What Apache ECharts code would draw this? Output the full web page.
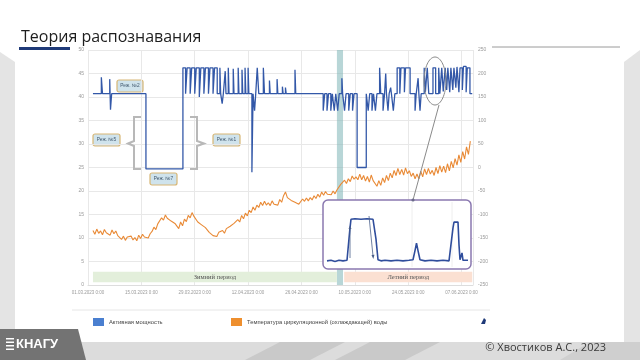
<!DOCTYPE html>
<html>
<head>
<meta charset="utf-8">
<script src="https://cdn.jsdelivr.net/npm/echarts@6/dist/echarts.min.js"></script>
<style>
html, body { margin: 0; padding: 0; background: #fff; }
#main { width: 640px; height: 360px; }
</style>
</head>
<body>
<div id="main"></div>
<script>
/* data */
var dateLabels = ['01.03.2023 0:00', '15.03.2023 0:00', '29.03.2023 0:00', '12.04.2023 0:00',
                  '26.04.2023 0:00', '10.05.2023 0:00', '24.05.2023 0:00', '07.06.2023 0:00'];
var seriesNames = ['Активная мощность', 'Температура циркуляционной (охлаждающей) воды'];

// active power, [day, value] change points (right axis)
var powerPoints = [
  [1.3,157],[3.5,192],[3.8,157],[5.7,188],[5.9,123],[6.2,157],
  [15.2,-3],
  [24.9,212],[25.6,157],[26.0,212],[26.8,157],[27.2,212],[28.0,157],[28.4,212],[29.2,150],[29.6,212],[30.4,157],
  [30.8,212],[31.6,157],[32.0,212],[32.8,157],[33.2,212],[33.9,157],
  [34.6,212],[34.8,157],[35.2,136],[35.5,157],[36.0,205],[36.2,157],[36.8,212],[37.0,157],[38.1,210],[38.3,157],
  [39.4,212],[39.6,157],[40.4,208],[40.6,157],[41.2,212],[41.4,157],[42.0,212],[42.2,157],[43.0,-10],[43.3,157],
  [43.7,121],[44.0,157],[44.4,212],[44.8,157],
  [46.0,212],[46.3,157],[47.6,185],[47.8,157],[49.6,188],[49.8,157],[51.0,172],[51.2,157],[51.8,170],[52.0,157],
  [54.3,208],[54.5,157],
  [61.7,121],[62.1,157],[62.7,121],[63.1,157],[63.7,121],[64.1,157],[64.6,121],[65.0,157],[65.5,121],[65.9,157],
  [66.6,190],[66.8,157],[67.3,121],[67.7,157],[68.4,121],[68.8,157],[69.4,121],[69.8,157],
  [70.6,0],[73.0,157],
  [73.5,121],[73.9,157],[74.5,121],[74.9,157],[75.4,121],[75.8,157],[76.5,212],[76.8,157],[77.4,121],[77.8,157],
  [78.1,200],[78.3,157],[78.7,121],[79.0,157],[79.4,170],[79.6,157],[80.1,121],[80.5,157],
  [81.1,212],[81.8,157],[82.1,212],[83.0,160],[83.3,212],[84.5,157],
  [85.8,121],[86.1,157],[86.6,190],[86.8,157],[87.1,121],[87.4,157],[88.2,212],[88.5,160],[89.0,212],[89.4,157],
  [90.5,212],[91.2,157],[92.0,212],[92.3,157],[92.8,212],[93.2,162],
  [93.7,212],[94.1,165],[94.4,212],[94.9,160],[95.2,212],[95.7,165],[96.0,212],[96.5,170],[96.8,214],[97.3,160],
  [97.6,212],[98.2,165],[98.5,215],[99.2,160],[99.5,212],[100.2,157],[100.8,157]
];

// water temperature, every half day from day 1.3 (left axis)
var tempStart = 1.3;
var tempStep = 0.5;
var tempValues = [
  11.6,10.8,11.9,11.0,11.5,10.7,11.8,11.1,11.4,10.6,
  11.7,10.9,11.5,10.5,10.3,9.7,10.4,9.5,10.2,9.8,
  10.4,9.6,10.1,9.4,10.6,9.9,10.8,10.2,10.5,10.0,
  10.9,11.4,12.3,11.8,13.0,12.6,14.3,13.8,14.9,14.2,
  14.6,13.6,14.0,13.1,12.7,12.0,13.4,12.6,14.0,13.5,
  14.8,14.3,15.4,14.6,14.2,13.4,13.6,12.8,12.9,12.2,
  11.9,11.2,11.1,10.5,10.9,10.3,11.2,10.8,11.6,11.0,
  12.0,11.6,12.5,12.1,13.1,12.7,13.9,13.4,14.8,14.1,
  15.3,14.7,15.9,15.4,16.6,15.9,17.0,16.5,17.6,16.9,
  17.8,17.0,17.5,16.9,17.9,17.2,17.6,17.0,18.2,17.6,
  19.0,19.8,18.6,18.9,18.0,18.4,17.6,17.9,17.2,17.6,
  18.3,17.8,18.5,17.9,18.6,18.1,19.0,18.4,19.3,18.7,
  19.8,19.1,19.9,19.3,19.7,19.2,20.0,19.4,20.2,20.6,
  21.4,21.0,22.3,21.6,22.6,22.0,23.2,22.5,23.0,22.4,
  23.6,22.4,23.3,22.1,23.1,21.9,23.4,22.2,21.8,21.0,
  22.2,21.2,22.8,21.8,23.3,22.2,23.8,22.8,24.4,23.3,
  24.8,23.5,24.6,23.4,24.9,23.7,24.3,23.1,23.8,22.6,
  23.6,22.6,24.2,23.0,24.7,23.5,24.8,23.6,24.4,23.3,
  25.0,23.7,25.4,24.0,25.3,23.9,25.8,24.3,26.3,24.9,
  26.9,25.5,27.7,26.1,28.4,26.8,29.4,27.8,30.6
];

// zoomed fragment in the inset, [offset, value]
var insetPoints = [
  [2,2],[6,3],[10,1],[14,3],[18,2],[22,3],[23,5],[25,60],[26,75],[30,76],[36,75],[42,76],[48,75],[50,74],
  [51,40],[53,4],[56,2],[60,3],[66,2],[72,3],[78,2],[84,3],[88,4],[90,20],[91.5,33],[93,20],[95,4],
  [100,2],[106,3],[112,2],[118,3],[124,2],[126,4],[128,60],[129,70],[133,70],[134,30],[135,4],
  [136,3],[137,16],[138,3],[140,2],[143,3]
];

var axisFont = 'Liberation Sans';

function callout(x, y, w, h, txt) {
  return {
    type: 'group', x: x, y: y, z: 20,
    children: [
      { type: 'rect', shape: { x: 0, y: 0, width: w, height: h, r: 2 },
        style: { fill: '#cfe3ec', stroke: '#d7b674', lineWidth: 1.2 } },
      { type: 'text', x: w / 2, y: h / 2,
        style: { text: txt, fill: '#3e556a', fontSize: 4.8, fontFamily: axisFont, align: 'center', verticalAlign: 'middle' } }
    ]
  };
}

var chart = echarts.init(document.getElementById('main'));

var option = {
  animation: false,
  backgroundColor: '#ffffff',
  legend: [
    { left: 88, top: 313, icon: 'rect', itemWidth: 11, itemHeight: 8, data: [seriesNames[0]],
      textStyle: { fontSize: 5.8, color: '#444', fontFamily: axisFont } },
    { left: 226, top: 313, icon: 'rect', itemWidth: 11, itemHeight: 8, data: [seriesNames[1]],
      textStyle: { fontSize: 5.8, color: '#444', fontFamily: axisFont } }
  ],
  grid: [
    { left: 88, right: 167, top: 50, bottom: 75 },
    { left: 325, top: 205, width: 145, height: 57 }
  ],
  xAxis: [
    { type: 'value', gridIndex: 0, min: 0, max: 101, interval: 14,
      axisLine: { lineStyle: { color: '#dddddd' } },
      axisTick: { show: false },
      splitLine: { lineStyle: { color: '#e8e8e8' } },
      axisLabel: { showMaxLabel: false, fontSize: 4.5, color: '#9a9a9a', fontFamily: axisFont, margin: 5,
        formatter: function (v) { return dateLabels[Math.round(v / 14)] || ''; } } },
    { type: 'value', gridIndex: 1, min: 0, max: 145, show: false }
  ],
  yAxis: [
    { type: 'value', gridIndex: 0, min: 0, max: 50, interval: 5,
      axisLine: { show: false }, axisTick: { show: false },
      splitLine: { lineStyle: { color: '#e8e8e8' } },
      axisLabel: { fontSize: 5, color: '#9a9a9a', fontFamily: axisFont, margin: 4 } },
    { type: 'value', gridIndex: 0, min: -250, max: 250, interval: 50, position: 'right',
      axisLine: { show: false }, axisTick: { show: false }, splitLine: { show: false },
      axisLabel: { fontSize: 5, color: '#9a9a9a', fontFamily: axisFont, margin: 5 } },
    { type: 'value', gridIndex: 1, min: 0, max: 100, show: false }
  ],
  series: [
    { name: seriesNames[0], type: 'line', xAxisIndex: 0, yAxisIndex: 1, step: 'end',
      showSymbol: false, z: 3,
      itemStyle: { color: '#4a7fd0' },
      lineStyle: { color: '#3358a8', width: 1.3 },
      data: powerPoints,
      markArea: { silent: true, itemStyle: { color: 'rgba(125,180,182,0.55)' },
        data: [[{ xAxis: 65.3 }, { xAxis: 66.9 }]] } },
    { name: seriesNames[1], type: 'line', xAxisIndex: 0, yAxisIndex: 0,
      showSymbol: false, z: 2,
      itemStyle: { color: '#ee8f2e' },
      lineStyle: { color: '#e98a36', width: 1.1 },
      data: tempValues.map(function (v, i) { return [tempStart + i * tempStep, v]; }),
      markArea: { silent: true,
        label: { position: 'inside', fontSize: 6.5, color: '#555', fontFamily: 'Liberation Serif' },
        data: [
          [{ name: 'Зимний период', xAxis: 1.3, yAxis: 0.6, itemStyle: { color: '#e3efdb' } }, { xAxis: 65.3, yAxis: 2.8 }],
          [{ name: 'Летний период', xAxis: 67.2, yAxis: 0.6, itemStyle: { color: '#fbe0d2' } }, { xAxis: 100.8, yAxis: 2.8 }]
        ] } },
    { name: 'inset', type: 'line', xAxisIndex: 1, yAxisIndex: 2, showSymbol: false, z: 10,
      lineStyle: { color: '#2f4d9c', width: 1.6 }, data: insetPoints }
  ],
  graphic: [
    // slide decoration
    { type: 'polygon', z: 0, shape: { points: [[0, 52], [15, 62], [15, 342], [0, 342]] }, style: { fill: '#e4e4e4' } },
    { type: 'polygon', z: 0, shape: { points: [[640, 50], [624, 62], [624, 342], [640, 342]] }, style: { fill: '#e4e4e4' } },
    { type: 'rect', z: 0, shape: { x: 0, y: 342, width: 640, height: 18 }, style: { fill: '#dcdcdc' } },
    { type: 'polygon', z: 0, shape: { points: [[245, 360], [280, 342], [345, 342], [310, 360]] }, style: { fill: '#c9c9c9' } },
    { type: 'polygon', z: 0, shape: { points: [[335, 360], [370, 342], [440, 342], [405, 360]] }, style: { fill: '#c9c9c9' } },
    { type: 'polygon', z: 0, shape: { points: [[560, 360], [590, 342], [640, 342], [640, 360]] }, style: { fill: '#cfcfcf' } },
    { type: 'polygon', z: 1, shape: { points: [[0, 329], [78, 329], [86, 360], [0, 360]] }, style: { fill: '#737373' } },
    { type: 'rect', z: 2, shape: { x: 6, y: 338, width: 8, height: 1.5 }, style: { fill: '#fff' } },
    { type: 'rect', z: 2, shape: { x: 6, y: 341.5, width: 8, height: 1.5 }, style: { fill: '#fff' } },
    { type: 'rect', z: 2, shape: { x: 6, y: 345, width: 8, height: 1.5 }, style: { fill: '#fff' } },
    { type: 'rect', z: 2, shape: { x: 6, y: 348.5, width: 8, height: 1.5 }, style: { fill: '#fff' } },
    { type: 'text', z: 2, x: 16, y: 344, style: { text: 'КНАГУ', fill: '#fff', fontSize: 13, fontWeight: 'bold',
      fontFamily: 'Liberation Sans Narrow, Liberation Sans', verticalAlign: 'middle' } },
    { type: 'text', z: 2, x: 606, y: 348, style: { text: '© Хвостиков А.С., 2023', fill: '#3a3a3a', fontSize: 11,
      fontFamily: 'Open Sans', align: 'right', verticalAlign: 'middle' } },
    // title
    { type: 'text', x: 21, y: 37, style: { text: 'Теория распознавания', fill: '#1e1e1e', fontSize: 16,
      fontFamily: 'Open Sans', verticalAlign: 'middle' } },
    { type: 'rect', shape: { x: 19, y: 47, width: 51, height: 3 }, style: { fill: '#1f3a78' } },
    { type: 'line', shape: { x1: 492, y1: 47, x2: 620, y2: 47 }, style: { stroke: '#9a9a9a', lineWidth: 1 } },
    // legend separator and icon
    { type: 'line', shape: { x1: 72, y1: 310, x2: 490, y2: 310 }, style: { stroke: '#e6e6e6', lineWidth: 1 } },
    { type: 'polygon', shape: { points: [[481, 324], [484, 318], [486, 320], [485, 324]] }, style: { fill: '#1f3a78' } },
    // annotations on the main chart
    callout(117, 80, 26, 12, 'Реж. №2'),
    callout(93, 134, 27, 12, 'Реж. №5'),
    callout(150, 173, 27, 12, 'Реж. №7'),
    callout(213, 134, 27, 12, 'Реж. №1'),
    { type: 'polyline', z: 15, shape: { points: [[141, 117], [134, 117], [134, 141], [128, 143.5], [134, 146], [134, 169], [141, 169]] },
      style: { stroke: '#b8b8b8', lineWidth: 2, fill: null } },
    { type: 'polyline', z: 15, shape: { points: [[190, 117], [197, 117], [197, 141], [204, 143.5], [197, 146], [197, 169], [190, 169]] },
      style: { stroke: '#b8b8b8', lineWidth: 2, fill: null } },
    { type: 'ellipse', z: 15, shape: { cx: 435, cy: 81, rx: 11, ry: 24 }, style: { stroke: '#8a8a8a', lineWidth: 1, fill: null } },
    { type: 'line', z: 15, shape: { x1: 439, y1: 105, x2: 413, y2: 200 }, style: { stroke: '#8a8a8a', lineWidth: 1 } },
    { type: 'circle', z: 15, shape: { cx: 413, cy: 200, r: 1.6 }, style: { fill: '#6a6a8a' } },
    // inset frame
    { type: 'rect', z: 5, shape: { x: 323, y: 200, width: 148, height: 69, r: 5 },
      style: { fill: '#ffffff', stroke: '#8a78b0', lineWidth: 1.5 } },
    { type: 'line', z: 6, shape: { x1: 412, y1: 202, x2: 412, y2: 267 }, style: { stroke: '#eeeeee', lineWidth: 1 } },
    { type: 'line', z: 6, shape: { x1: 452, y1: 202, x2: 452, y2: 267 }, style: { stroke: '#eeeeee', lineWidth: 1 } },
    callout(325, 231, 21, 10, 'Реж. №3'),
    callout(353, 206, 21, 10, 'Реж. №2'),
    callout(381, 229, 22, 10, 'Реж. №4'),
    { type: 'line', z: 21, shape: { x1: 350, y1: 258, x2: 350, y2: 228 }, style: { stroke: '#4a5f8a', lineWidth: 0.8 } },
    { type: 'polygon', z: 21, shape: { points: [[348.5, 229], [350, 225.5], [351.5, 229]] }, style: { fill: '#4a5f8a' } },
    { type: 'line', z: 21, shape: { x1: 369, y1: 216, x2: 373, y2: 256 }, style: { stroke: '#4a5f8a', lineWidth: 0.8 } },
    { type: 'polygon', z: 21, shape: { points: [[371.5, 255], [373.3, 259], [374.5, 254.8]] }, style: { fill: '#4a5f8a' } }
  ]
};

chart.setOption(option);
</script>
</body>
</html>
